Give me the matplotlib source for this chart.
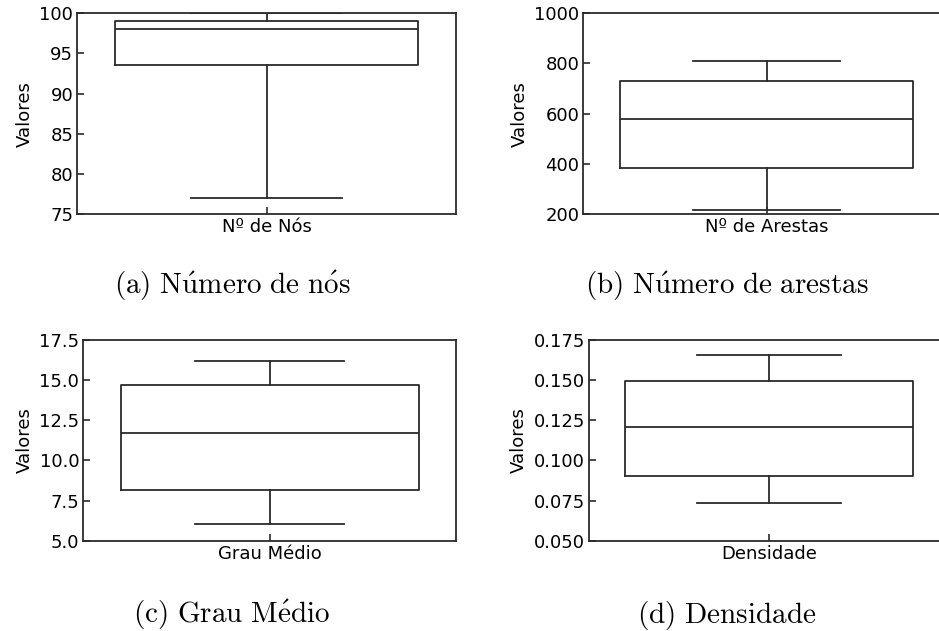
import matplotlib
matplotlib.use("Agg")
import matplotlib.pyplot as plt

# box statistics for each metric: lower whisker, Q1, median, Q3, upper whisker
metricas = ["Nº de Nós", "Nº de Arestas", "Grau Médio", "Densidade"]
legendas = [
    r"$\mathrm{(a)\ N\acute{u}mero\ de\ n\acute{o}s}$",
    r"$\mathrm{(b)\ N\acute{u}mero\ de\ arestas}$",
    r"$\mathrm{(c)\ Grau\ M\acute{e}dio}$",
    r"$\mathrm{(d)\ Densidade}$",
]
whislo = [77, 215, 6.04, 0.0735]
q1 = [93.5, 382, 8.14, 0.0901]
mediana = [98, 579, 11.73, 0.121]
q3 = [99, 728, 14.70, 0.1493]
whishi = [100, 809, 16.21, 0.1655]

limites = [(75, 100), (200, 1000), (5.0, 17.5), (0.050, 0.175)]
ticks = [
    [75, 80, 85, 90, 95, 100],
    [200, 400, 600, 800, 1000],
    [5.0, 7.5, 10.0, 12.5, 15.0, 17.5],
    [0.050, 0.075, 0.100, 0.125, 0.150, 0.175],
]

plt.rcParams["font.family"] = "DejaVu Sans"
plt.rcParams["mathtext.fontset"] = "cm"
plt.rcParams["font.size"] = 13

fig = plt.figure(figsize=(9.39, 6.31), dpi=100)

posicoes = [
    [0.0825, 0.6609, 0.4031, 0.3181],
    [0.6214, 0.6609, 0.3898, 0.3181],
    [0.0889, 0.1431, 0.3967, 0.3181],
    [0.6276, 0.1431, 0.3834, 0.3181],
]
legenda_xy = [(232, 294), (727, 294), (232, 623), (727, 623)]

cor_linha = "#2b2b2b"

for i in range(4):
    ax = fig.add_axes(posicoes[i])
    stats = [{
        "med": mediana[i], "q1": q1[i], "q3": q3[i],
        "whislo": whislo[i], "whishi": whishi[i], "fliers": [],
    }]
    props = dict(color=cor_linha, linewidth=1.3)
    ax.bxp(stats, positions=[0], widths=0.8, showfliers=False,
           boxprops=props, whiskerprops=props, capprops=props,
           medianprops=props)
    ax.set_xlim(-0.5, 0.5)
    ax.set_ylim(*limites[i])
    ax.set_yticks(ticks[i])
    ax.set_xticks([0])
    ax.set_xticklabels([metricas[i]])
    ax.set_ylabel("Valores")
    ax.tick_params(direction="in", length=5, width=1.2, colors=cor_linha,
                   labelcolor="black", pad=3)
    for s in ax.spines.values():
        s.set_color(cor_linha)
        s.set_linewidth(1.3)

    x, y = legenda_xy[i]
    fig.text(x / 939, 1 - y / 631, legendas[i], ha="center", va="baseline",
             fontsize=21)

fig.savefig("out.png", dpi=100)
